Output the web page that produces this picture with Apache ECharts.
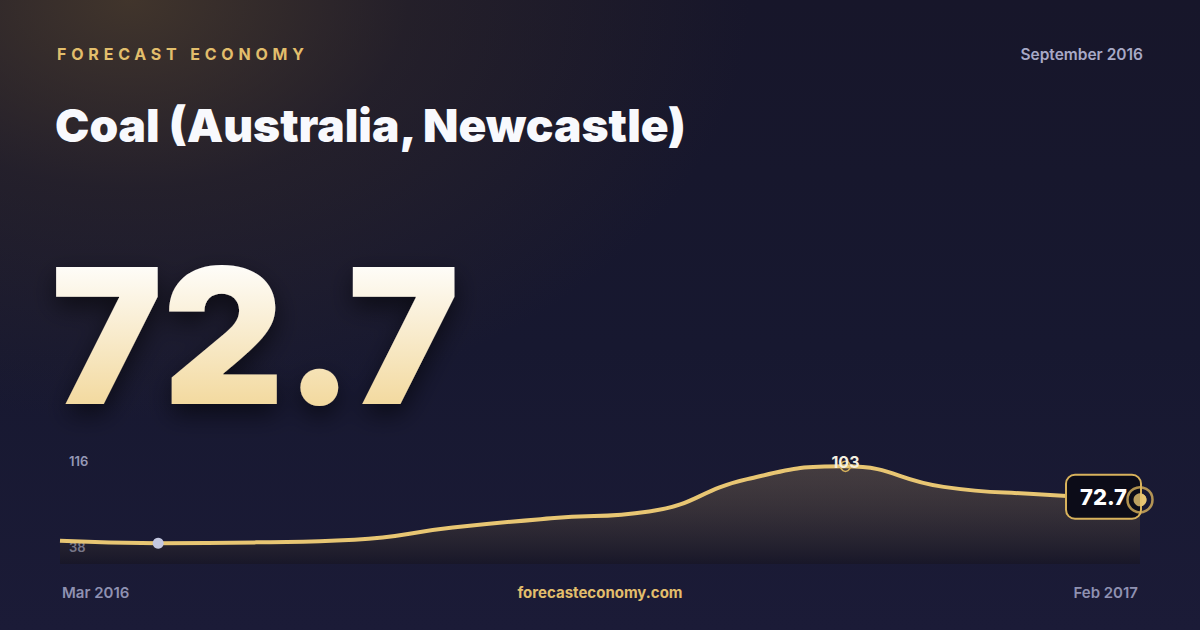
<!DOCTYPE html>
<html>
<head>
<meta charset="utf-8">
<script src="https://cdn.jsdelivr.net/npm/echarts@6/dist/echarts.min.js"></script>
<style>
html,body{margin:0;padding:0;width:1200px;height:630px;overflow:hidden;}
body{background:
  radial-gradient(ellipse 620px 420px at 130px 0px, rgba(72,58,44,0.85) 0%, rgba(60,48,40,0.35) 45%, rgba(40,34,40,0) 100%),
  linear-gradient(180deg,#17162a 0%,#171830 55%,#1b1b37 100%);}
#chart{width:1200px;height:630px;}
#defs{position:absolute;width:0;height:0;}
</style>
</head>
<body>
<svg id="defs" aria-hidden="true">
  <defs>
    <linearGradient id="bigGrad" x1="0" y1="0" x2="0" y2="1">
      <stop offset="0.15" stop-color="#ffffff"/>
      <stop offset="0.85" stop-color="#f2d799"/>
    </linearGradient>
    <filter id="bigShadow" x="-20%" y="-20%" width="140%" height="160%">
      <feDropShadow dx="0" dy="10" stdDeviation="12" flood-color="#000" flood-opacity="0.55"/>
    </filter>
  </defs>
</svg>
<div id="chart"></div>
<script>
// ---- data ----
const months = ['Mar 2016','Apr 2016','May 2016','Jun 2016','Jul 2016','Aug 2016','Sep 2016','Oct 2016','Nov 2016','Dec 2016','Jan 2017','Feb 2017'];
const prices = [35.5, 33.4, 34.1, 36.5, 47.5, 55.9, 62.1, 91.4, 103, 84.4, 77.5, 72.7];
const yTicks = [38, 116];
const brand = 'FORECAST ECONOMY';
const title = 'Coal (Australia, Newcastle)';
const period = 'September 2016';
const headline = '72.7';
const site = 'forecasteconomy.com';
const minIndex = 1, maxIndex = 8, lastIndex = prices.length - 1;

const GOLD = '#e8c673';
const RING = '#d9b35c';
const FONT = 'Inter, "Noto Sans", sans-serif';

const seriesData = prices.map((v, i) => {
  if (i === minIndex) return {value: v, symbol: 'circle', symbolSize: 11, itemStyle: {color: '#c4c8e0'}};
  if (i === maxIndex) return {value: v, symbol: 'circle', symbolSize: 10,
    itemStyle: {color: 'rgba(0,0,0,0)', borderColor: RING, borderWidth: 1.5},
    label: {show: true, position: 'inside', offset: [0, -4], formatter: '{c}', color: '#f4efe0', fontSize: 16, fontWeight: 700, fontFamily: FONT}};
  if (i === lastIndex) return {value: v, symbol: 'circle', symbolSize: 13, itemStyle: {color: GOLD},
    label: {show: true, position: 'left', distance: -6.5, offset: [0, -3], formatter: '{c}',
      color: '#ffffff', fontSize: 22, fontWeight: 800, fontFamily: FONT, lineHeight: 22,
      backgroundColor: '#0c0c18', borderColor: RING, borderWidth: 2, borderRadius: 8, padding: [10, 13, 10, 13]}};
  return {value: v, symbol: 'none'};
});

const chart = echarts.init(document.getElementById('chart'), null, {renderer: 'svg'});
chart.setOption({
  backgroundColor: 'transparent',
  animation: false,
  grid: {left: 60, right: 60, top: 452, bottom: 66},
  xAxis: {
    type: 'category', data: months, boundaryGap: false,
    axisLine: {show: false}, axisTick: {show: false}, splitLine: {show: false},
    axisLabel: {
      interval: (i) => i === 0 || i === months.length - 1,
      margin: 21, color: '#8f91b1', fontSize: 15, fontWeight: 600, fontFamily: FONT,
      alignMinLabel: 'left', alignMaxLabel: 'right', padding: [0, 2, 0, 2]
    }
  },
  yAxis: {
    type: 'value', min: 14.5, max: 116,
    axisLine: {show: false}, axisTick: {show: false}, splitLine: {show: false},
    axisLabel: {customValues: yTicks, inside: true, margin: 9, verticalAlign: 'top', padding: [2, 0, 0, 0],
      color: '#9698b6', fontSize: 13, fontWeight: 600, fontFamily: FONT, showMinLabel: true, showMaxLabel: true}
  },
  series: [{
    type: 'line', data: seriesData, smooth: 0.5, symbol: 'none', showSymbol: true,
    lineStyle: {color: GOLD, width: 4},
    areaStyle: {color: new echarts.graphic.LinearGradient(0, 0, 0, 1, [
      {offset: 0, color: 'rgba(230,190,110,0.3)'},
      {offset: 1, color: 'rgba(20,16,14,0.45)'}
    ])},
    z: 3
  }, {
    type: 'scatter', z: 10, silent: true,
    data: [
      {value: [lastIndex, prices[lastIndex]], symbol: 'circle', symbolSize: 25,
        itemStyle: {color: 'rgba(0,0,0,0)', borderColor: RING, borderWidth: 2.5}},
      {value: [lastIndex, prices[lastIndex]], symbol: 'circle', symbolSize: 13, itemStyle: {color: GOLD}}
    ]
  }],
  graphic: [
    {type: 'text', x: 57, y: 54, style: {text: brand, fill: '#e2be6c', font: '700 16px ' + FONT, verticalAlign: 'middle'}},
    {type: 'text', x: 1143, y: 54, style: {text: period, fill: '#a7a9c6', font: '600 15.5px ' + FONT, align: 'right', verticalAlign: 'middle'}},
    {type: 'text', x: 55, y: 125, style: {text: title, fill: '#f8f9fd', font: '900 46px ' + FONT, verticalAlign: 'middle'}},
    {type: 'text', x: 51, y: 335, style: {text: headline, font: '900 188px ' + FONT, verticalAlign: 'middle', fill: '#f8eccd'}},
    {type: 'text', x: 600, y: 592, style: {text: site, fill: '#e2be6c', font: '700 15px ' + FONT, align: 'center', verticalAlign: 'middle'}}
  ]
});

function decorate() {
  document.querySelectorAll('#chart text').forEach(t => {
    if (t.textContent === brand) t.setAttribute('letter-spacing', '4.8');
    if (t.textContent === headline && t.getAttribute('style') && t.getAttribute('style').indexOf('188px') >= 0) {
      t.style.fill = 'url(#bigGrad)';
      t.style.filter = 'url(#bigShadow)';
    }
  });
}
chart.on('finished', decorate);
decorate();
</script>
</body>
</html>
